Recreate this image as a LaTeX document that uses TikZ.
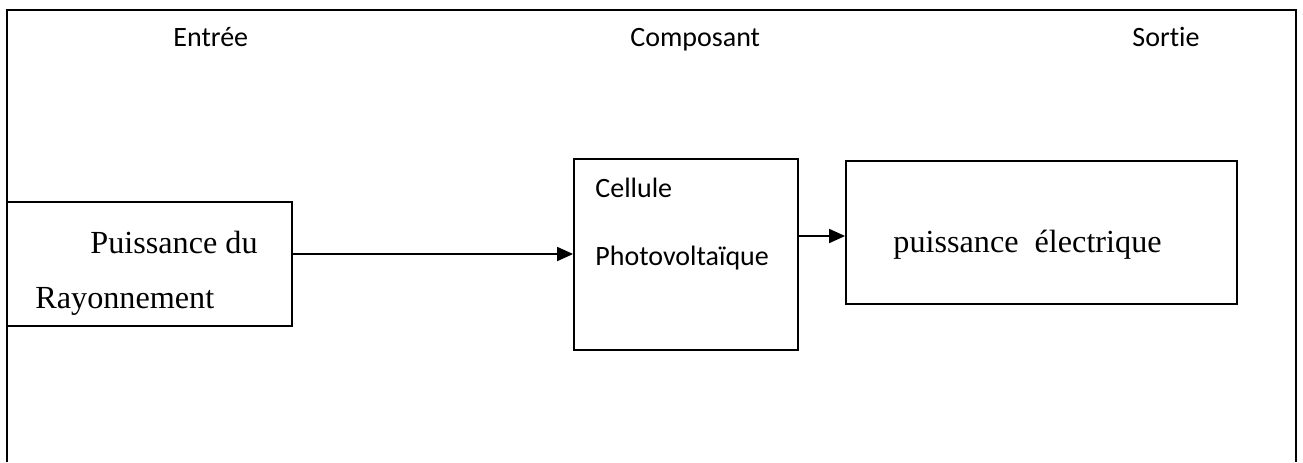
\documentclass[tikz,border=0pt]{standalone}
\usepackage{fontspec}
\setmainfont{Liberation Serif}
\newfontfamily\calib[Ligatures=NoCommon]{Carlito}
\usetikzlibrary{arrows.meta}
\begin{document}
\begin{tikzpicture}[x=0.5pt,y=-0.5pt,
  frame/.style={line width=1.1pt},
  boxst/.style={draw,rectangle,inner sep=0pt,line width=0.9pt},
  hdr/.style={anchor=base west,inner sep=0pt,font=\calib\fontsize{14}{16}\selectfont},
  sans/.style={anchor=base west,inner sep=0pt,font=\calib\fontsize{14}{16}\selectfont},
  serif/.style={anchor=base west,inner sep=0pt,font=\fontsize{16.1}{18}\selectfont},
  arr/.style={line width=0.9pt,-{Triangle[length=8pt,width=7pt]}}]
\useasboundingbox (0,0) rectangle (1303,462);
% outer frame (open at bottom)
\draw[frame] (7,462) -- (7,10) -- (1296,10) -- (1296,462);
% headers
\node[hdr] (hin) at (173,46) {Entrée};
\node[hdr] (hcomp) at (630,46) {Composant};
\node[hdr] (hout) at (1132,46) {Sortie};
% boxes
\node[boxst,minimum width=142.5pt,minimum height=62pt] (in) at (149.5,264) {};
\node[boxst,minimum width=112pt,minimum height=95.5pt] (cell) at (686,254.5) {};
\node[boxst,minimum width=195.5pt,minimum height=71.5pt] (out) at (1041.5,232.5) {};
% texts
\node[serif] (t1) at (90,253) {Puissance du};
\node[serif] (t2) at (35,308) {Rayonnement};
\node[sans] (t3) at (595,197) {Cellule};
\node[sans] (t4) at (595,265) {Photovoltaïque};
\node[serif] (t5) at (893,252) {puissance\ \ électrique};
% arrows
\coordinate (a1) at (0,254);
\coordinate (a2) at (0,236);
\draw[arr] (in.east |- a1) -- (cell.west |- a1);
\draw[arr] (cell.east |- a2) -- (out.west |- a2);
\end{tikzpicture}
\end{document}
